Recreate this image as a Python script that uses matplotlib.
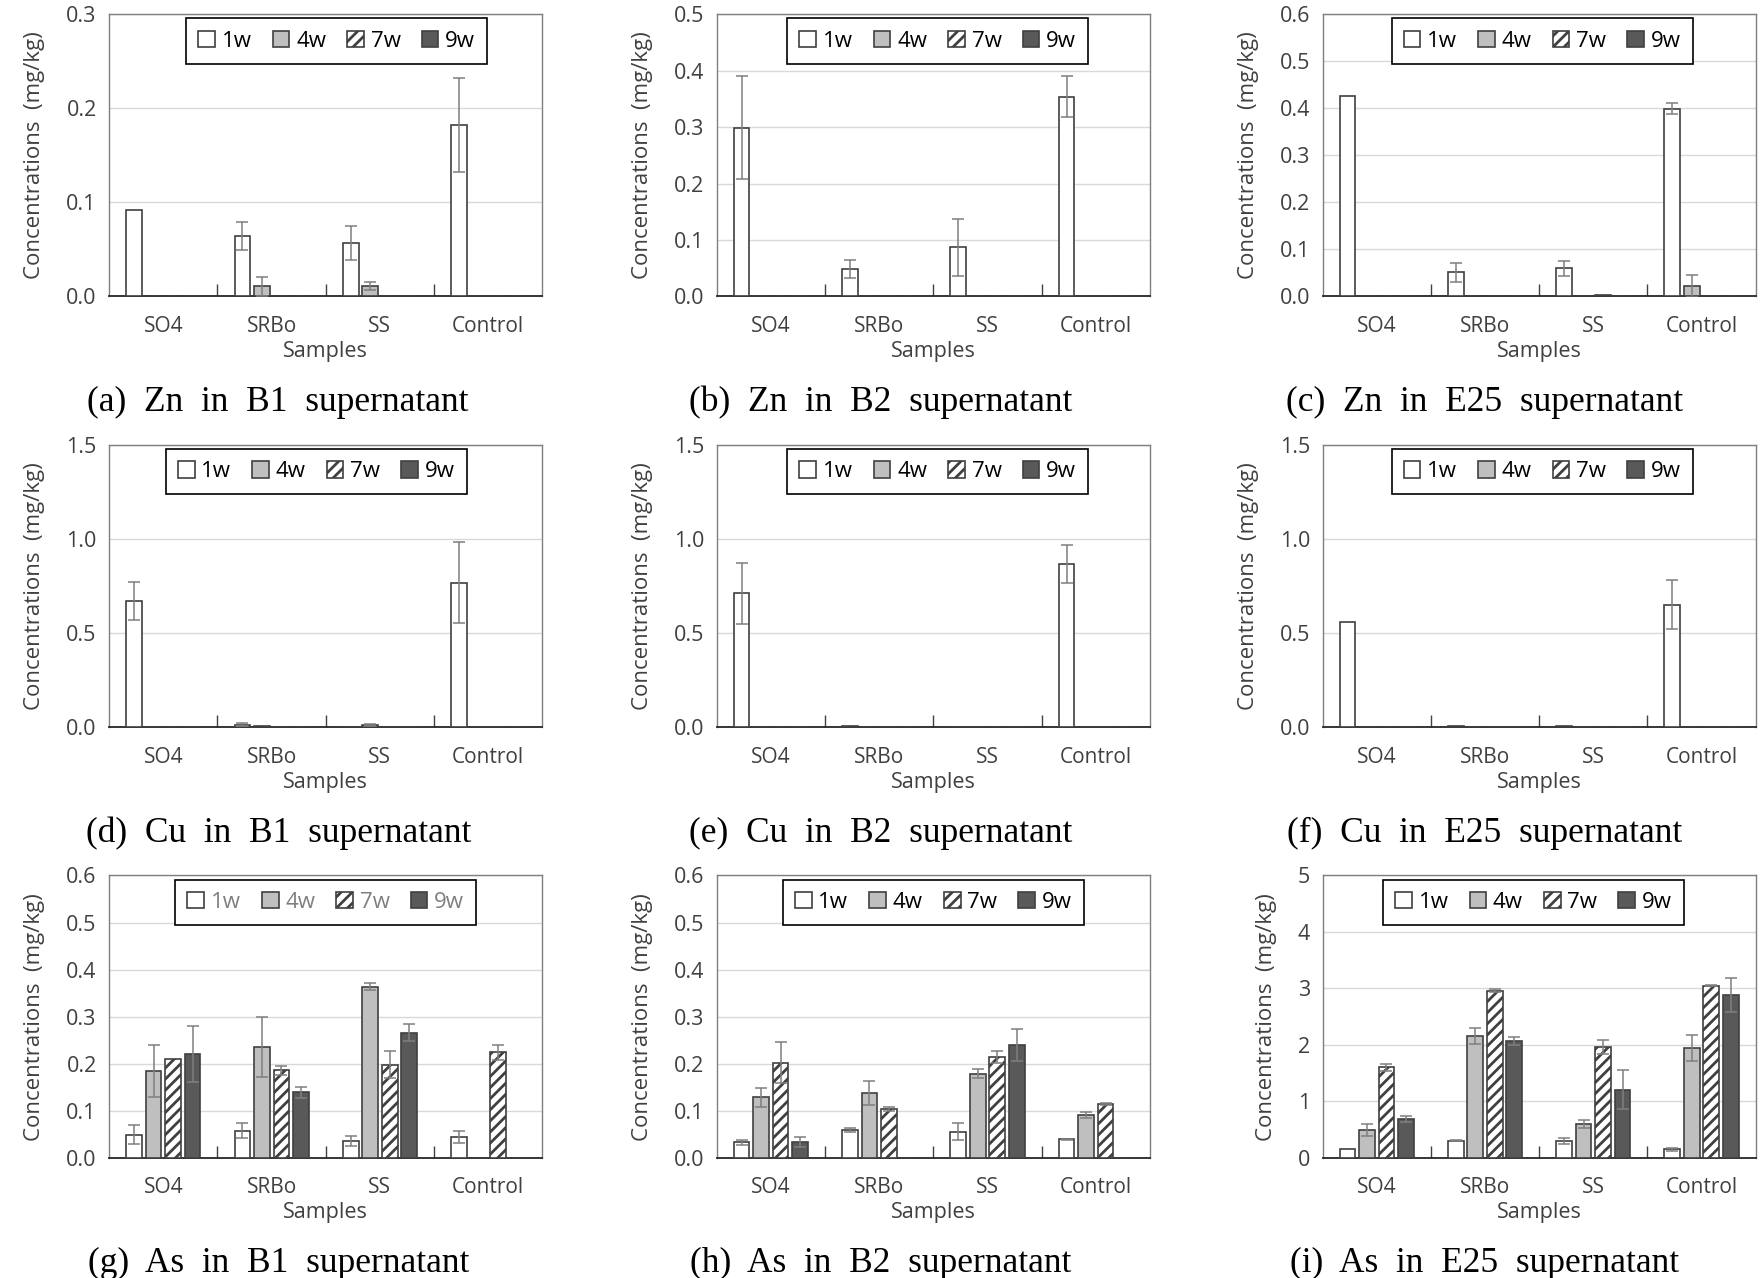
import numpy as np
import matplotlib
matplotlib.use("Agg")
from matplotlib import pyplot as plt
from matplotlib.ticker import MultipleLocator, FormatStrFormatter

params = {
    'font.family': ['Open Sans', 'DejaVu Sans'],
    'font.size': 15,
    'hatch.linewidth': 2.0,
    'axes.linewidth': 1.2,
}
matplotlib.rcParams.update(params)

samples = ['SO4', 'SRBo', 'SS', 'Control']
weeks = ['1w', '4w', '7w', '9w']

# rows: 1w, 4w, 7w, 9w ; columns: SO4, SRBo, SS, Control
zn_b1 = [[0.092, 0.064, 0.057, 0.182],
         [0.0, 0.011, 0.011, 0.0],
         [0.0, 0.0, 0.0, 0.0],
         [0.0, 0.0, 0.0, 0.0]]
zn_b1_err = [[0.0, 0.015, 0.018, 0.05],
             [0.0, 0.01, 0.004, 0.0],
             [0.0, 0.0, 0.0, 0.0],
             [0.0, 0.0, 0.0, 0.0]]

zn_b2 = [[0.299, 0.048, 0.087, 0.354],
         [0.0, 0.0, 0.0, 0.0],
         [0.0, 0.0, 0.0, 0.0],
         [0.0, 0.0, 0.0, 0.0]]
zn_b2_err = [[0.091, 0.016, 0.05, 0.036],
             [0.0, 0.0, 0.0, 0.0],
             [0.0, 0.0, 0.0, 0.0],
             [0.0, 0.0, 0.0, 0.0]]

zn_e25 = [[0.426, 0.051, 0.06, 0.399],
          [0.0, 0.0, 0.0, 0.022],
          [0.0, 0.0, 0.003, 0.0],
          [0.0, 0.0, 0.0, 0.0]]
zn_e25_err = [[0.0, 0.02, 0.016, 0.012],
              [0.0, 0.0, 0.0, 0.023],
              [0.0, 0.0, 0.0, 0.0],
              [0.0, 0.0, 0.0, 0.0]]

cu_b1 = [[0.671, 0.012, 0.003, 0.768],
         [0.0, 0.004, 0.01, 0.0],
         [0.0, 0.0, 0.0, 0.0],
         [0.0, 0.0, 0.0, 0.0]]
cu_b1_err = [[0.1, 0.008, 0.0, 0.215],
             [0.0, 0.0, 0.005, 0.0],
             [0.0, 0.0, 0.0, 0.0],
             [0.0, 0.0, 0.0, 0.0]]

cu_b2 = [[0.71, 0.004, 0.003, 0.867],
         [0.0, 0.0, 0.0, 0.0],
         [0.0, 0.0, 0.0, 0.0],
         [0.0, 0.0, 0.0, 0.0]]
cu_b2_err = [[0.16, 0.0, 0.0, 0.1],
             [0.0, 0.0, 0.0, 0.0],
             [0.0, 0.0, 0.0, 0.0],
             [0.0, 0.0, 0.0, 0.0]]

cu_e25 = [[0.56, 0.005, 0.005, 0.65],
          [0.0, 0.0, 0.0, 0.0],
          [0.0, 0.0, 0.0, 0.0],
          [0.0, 0.0, 0.0, 0.0]]
cu_e25_err = [[0.0, 0.0, 0.0, 0.13],
              [0.0, 0.0, 0.0, 0.0],
              [0.0, 0.0, 0.0, 0.0],
              [0.0, 0.0, 0.0, 0.0]]

as_b1 = [[0.049, 0.058, 0.036, 0.044],
         [0.184, 0.235, 0.364, 0.0],
         [0.209, 0.186, 0.198, 0.224],
         [0.221, 0.139, 0.266, 0.0]]
as_b1_err = [[0.02, 0.016, 0.011, 0.013],
             [0.055, 0.064, 0.008, 0.0],
             [0.0, 0.009, 0.028, 0.016],
             [0.06, 0.012, 0.018, 0.0]]

as_b2 = [[0.033, 0.06, 0.056, 0.04],
         [0.129, 0.138, 0.179, 0.091],
         [0.202, 0.104, 0.214, 0.115],
         [0.034, 0.0, 0.239, 0.0]]
as_b2_err = [[0.006, 0.004, 0.018, 0.001],
             [0.02, 0.026, 0.009, 0.007],
             [0.044, 0.004, 0.013, 0.002],
             [0.011, 0.0, 0.034, 0.0]]

as_e25 = [[0.15, 0.30, 0.30, 0.15],
          [0.49, 2.16, 0.60, 1.94],
          [1.60, 2.96, 1.96, 3.05],
          [0.69, 2.07, 1.21, 2.89]]
as_e25_err = [[0.0, 0.01, 0.05, 0.03],
              [0.11, 0.14, 0.07, 0.23],
              [0.07, 0.03, 0.13, 0.01],
              [0.05, 0.07, 0.35, 0.30]]

panels = [
    (zn_b1, zn_b1_err, 0.3, 0.1, '%.1f', '(a)  Zn  in  B1  supernatant', 0.525),
    (zn_b2, zn_b2_err, 0.5, 0.1, '%.1f', '(b)  Zn  in  B2  supernatant', 0.51),
    (zn_e25, zn_e25_err, 0.6, 0.1, '%.1f', '(c)  Zn  in  E25  supernatant', 0.507),
    (cu_b1, cu_b1_err, 1.5, 0.5, '%.1f', '(d)  Cu  in  B1  supernatant', 0.478),
    (cu_b2, cu_b2_err, 1.5, 0.5, '%.1f', '(e)  Cu  in  B2  supernatant', 0.51),
    (cu_e25, cu_e25_err, 1.5, 0.5, '%.1f', '(f)  Cu  in  E25  supernatant', 0.507),
    (as_b1, as_b1_err, 0.6, 0.1, '%.1f', '(g)  As  in  B1  supernatant', 0.50),
    (as_b2, as_b2_err, 0.6, 0.1, '%.1f', '(h)  As  in  B2  supernatant', 0.50),
    (as_e25, as_e25_err, 5, 1, '%d', '(i)  As  in  E25  supernatant', 0.487),
]

faces = ['white', '#bfbfbf', 'white', '#595959']
hatches = [None, None, '///', None]
edge = '#404040'
txt = '#404040'

col_left = [0.062, 0.407, 0.751]
cap_shift = [-0.027, -0.030, -0.031]
row_bottom = [0.768, 0.431, 0.094]
ax_w = 0.246
ax_h = 0.221

fig = plt.figure(figsize=(17.61, 12.78), dpi=100)

x = np.arange(len(samples))
bw = 0.145
step = 0.18

for k, (vals, errs, ymax, ystep, fmt, caption, lx) in enumerate(panels):
    r, c = divmod(k, 3)
    ax = fig.add_axes([col_left[c], row_bottom[r], ax_w, ax_h])
    for i, wk in enumerate(weeks):
        pos = x + (i - 1.5) * step
        v = np.array(vals[i])
        e = np.array(errs[i])
        ax.bar(pos, v, bw, color=faces[i], edgecolor=edge, linewidth=1.2,
               hatch=hatches[i], label=wk, zorder=3)
        m = e > 0
        if m.any():
            ax.errorbar(pos[m], v[m], yerr=e[m], fmt='none', ecolor='#7f7f7f',
                        elinewidth=1.1, capsize=4, capthick=1.1, zorder=4)
    ax.set_xlim(-0.5, len(samples) - 0.5)
    ax.set_ylim(0, ymax)
    ax.yaxis.set_major_locator(MultipleLocator(ystep))
    ax.yaxis.set_major_formatter(FormatStrFormatter(fmt))
    ax.grid(axis='y', color='#d9d9d9', linewidth=1.0, zorder=0)
    ax.set_axisbelow(True)
    ax.set_xticks(x)
    ax.set_xticklabels(samples)
    ax.set_xticks(np.arange(0.5, len(samples) - 1, 1.0), minor=True)
    ax.tick_params(axis='x', which='major', length=0, pad=14, labelsize=15,
                   labelcolor=txt)
    ax.tick_params(axis='x', which='minor', direction='in', length=9,
                   width=1.0, color='#404040')
    ax.tick_params(axis='y', length=0, pad=9, labelsize=15.5, labelcolor=txt)
    for s in ['left', 'right', 'top']:
        ax.spines[s].set_color('#7f7f7f')
        ax.spines[s].set_linewidth(1.0)
    ax.spines['bottom'].set_color('#262626')
    ax.spines['bottom'].set_linewidth(1.3)
    ax.set_xlabel('Samples', fontsize=15.5, color=txt, labelpad=3)
    ax.set_ylabel('Concentrations  (mg/kg)', fontsize=16, color=txt,
                  labelpad=15)
    leg = ax.legend(loc='upper center', bbox_to_anchor=(lx, 0.985), ncol=4,
                    frameon=True, fancybox=False, edgecolor='black',
                    framealpha=1, fontsize=16, handlelength=0.75,
                    handleheight=0.75, handletextpad=0.3, columnspacing=0.95,
                    borderpad=0.55, borderaxespad=0)
    leg.get_frame().set_linewidth(1.2)
    if k == 6:
        for t in leg.get_texts():
            t.set_color('#7f7f7f')
    fig.text(col_left[c] + ax_w / 2 + cap_shift[c], row_bottom[r] - 0.083,
             caption, ha='center', va='center', fontsize=25.5,
             family='Liberation Serif')

plt.savefig('out.png', dpi=100)
